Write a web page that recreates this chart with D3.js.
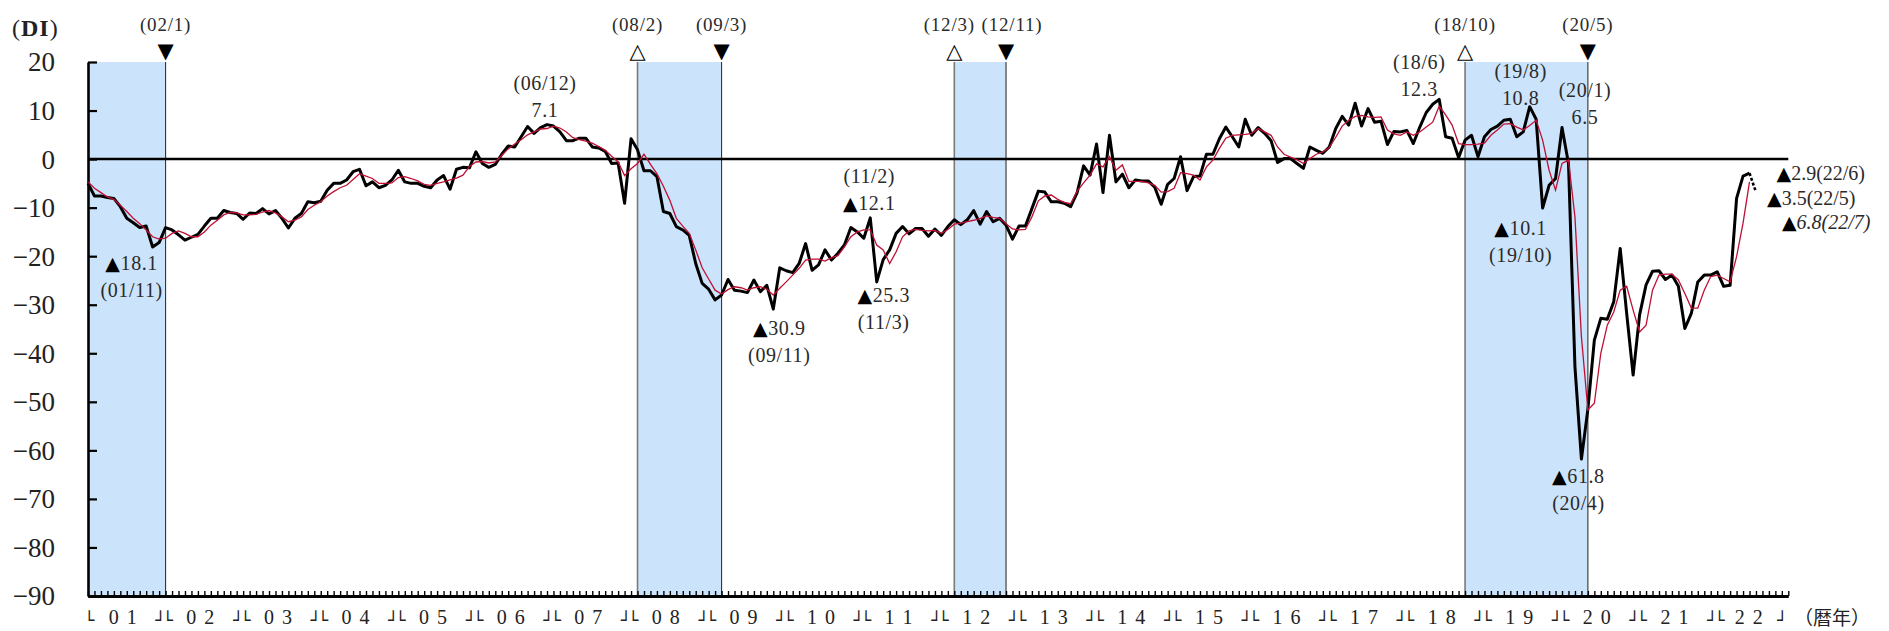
<!DOCTYPE html>
<html>
<head>
<meta charset="utf-8">
<script src="https://cdn.jsdelivr.net/npm/d3@7/dist/d3.min.js"></script>
<style>
body { margin: 0; background: #fff; }
svg text { font-family: "Liberation Serif", "DejaVu Serif", serif; fill: #2a2a2a; }
tspan.tri { font-family: "DejaVu Sans"; fill: #000; }
</style>
</head>
<body>
<svg id="chart" width="1889" height="631"></svg>
<script>
// Monthly DI, 2001/1 .. 2022/7 (last value is preliminary)
var diMonthly = [
    -5.0, -7.6, -7.6, -7.9, -8.1, -9.8, -12.2, -13.1, -14.1, -13.8,
    -18.1, -17.2, -14.1, -14.6, -15.6, -16.7, -16.1, -15.5, -13.8, -12.2,
    -12.2, -10.6, -11.0, -11.2, -12.4, -11.1, -11.2, -10.2, -11.3, -10.6,
    -12.2, -14.2, -12.2, -11.2, -8.8, -9.0, -8.7, -6.4, -5.0, -5.0,
    -4.3, -2.6, -2.1, -5.5, -4.7, -5.9, -5.4, -4.3, -2.3, -4.7,
    -5.0, -5.0, -5.6, -5.9, -4.3, -3.4, -6.2, -2.1, -1.7, -1.8,
    1.5, -0.9, -1.7, -1.1, 1.0, 2.7, 2.5, 4.6, 6.7, 5.3,
    6.5, 7.1, 6.8, 5.6, 3.8, 3.8, 4.3, 4.3, 2.5, 2.3,
    1.6, -0.9, -0.8, -9.1, 4.2, 1.9, -2.4, -2.4, -3.6, -10.8,
    -11.2, -13.9, -14.6, -15.7, -21.5, -25.6, -26.8, -29.0, -28.0, -24.8,
    -27.0, -27.2, -27.5, -24.9, -27.3, -26.0, -30.9, -22.4, -23.0, -23.4,
    -21.5, -17.4, -22.9, -21.8, -18.7, -20.8, -19.4, -17.7, -14.1, -15.0,
    -16.3, -12.1, -25.3, -20.7, -18.7, -15.3, -13.9, -15.4, -14.3, -14.3,
    -15.9, -14.4, -15.7, -13.9, -12.5, -13.5, -12.5, -10.6, -13.4, -10.8,
    -12.9, -12.2, -13.6, -16.5, -13.8, -13.8, -10.2, -6.6, -6.8, -8.8,
    -8.8, -9.1, -9.8, -6.9, -1.4, -3.3, 3.1, -6.9, 4.9, -4.7,
    -3.1, -5.9, -4.3, -4.5, -4.5, -5.8, -9.3, -5.2, -4.0, 0.5,
    -6.5, -3.6, -3.5, 1.0, 1.0, 4.2, 6.6, 4.6, 2.5, 8.2,
    4.9, 6.5, 5.3, 3.8, -0.7, 0.1, 0.1, -0.9, -1.9, 2.5,
    1.8, 1.2, 2.5, 6.3, 8.8, 7.0, 11.5, 6.8, 10.4, 7.6,
    7.8, 3.0, 5.7, 5.6, 5.9, 3.2, 6.6, 9.6, 11.3, 12.3,
    4.6, 4.3, 0.3, 3.9, 4.9, 0.5, 4.6, 6.1, 6.8, 8.0,
    8.2, 4.6, 5.6, 10.8, 8.2, -10.1, -5.4, -4.0, 6.5, -0.9,
    -42.8, -61.8, -51.5, -37.3, -32.8, -33.0, -29.4, -18.4, -31.8, -44.5,
    -32.1, -25.9, -23.1, -23.0, -24.8, -23.9, -26.2, -34.9, -31.8, -25.3,
    -23.9, -23.9, -23.2, -26.2, -26.0, -8.1, -3.5, -2.9, -6.8
];

// Moving average line (red), 2001/1 .. 2022/6
var diAverage = [
    -4.7, -6.0, -6.9, -7.8, -8.3, -9.5, -10.8, -12.2, -13.3, -14.6,
    -16.0, -16.5, -16.3, -15.3, -14.8, -15.3, -16.0, -16.0, -15.0, -13.6,
    -12.6, -11.5, -11.0, -11.1, -11.5, -11.5, -11.4, -10.9, -10.6, -11.1,
    -11.9, -12.9, -12.6, -11.9, -10.4, -9.5, -8.8, -7.6, -6.7, -5.9,
    -5.4, -4.2, -3.0, -3.5, -4.0, -5.0, -5.0, -4.9, -3.8, -3.6,
    -4.0, -4.5, -5.2, -5.4, -5.0, -4.7, -4.3, -3.9, -3.3, -1.5,
    -0.6, -0.5, -0.8, -0.6, 0.8, 2.1, 3.1, 4.0, 5.0, 5.6,
    6.2, 6.3, 6.8, 6.4, 5.6, 4.4, 4.0, 3.7, 3.3, 2.6,
    1.8, 0.6, -0.6, -3.4, -2.0, -0.9, 1.0, -1.1, -3.0, -5.6,
    -8.5, -12.2, -13.8, -15.3, -18.7, -22.4, -24.7, -27.0, -27.8, -26.9,
    -26.3, -26.5, -27.0, -26.5, -26.3, -26.8, -28.0, -26.6, -25.3, -23.9,
    -22.5, -20.8, -20.6, -20.6, -21.0, -20.3, -19.9, -18.1, -16.0, -15.0,
    -14.6, -14.6, -17.7, -18.7, -21.5, -19.1, -16.0, -14.8, -14.5, -14.7,
    -14.8, -14.7, -15.3, -14.5, -13.4, -13.2, -12.9, -12.6, -12.2, -11.7,
    -12.0, -12.2, -13.3, -14.4, -14.6, -14.5, -11.9, -8.6, -7.6, -7.4,
    -8.3, -8.9, -9.2, -6.6, -4.9, -3.3, -1.0, -1.6, 0.5, -2.3,
    -1.2, -4.6, -4.6, -4.6, -4.9, -5.4, -6.8, -6.7, -6.0, -2.8,
    -3.0, -3.3, -4.3, -1.6, -0.2, 2.2, 4.3, 4.9, 5.0, 5.1,
    5.3, 6.3, 5.6, 4.9, 2.5, 1.0, 0.4, -0.1, -0.9, 0.1,
    1.0, 1.5, 2.4, 4.5, 6.8, 8.0, 8.8, 9.0, 8.7, 8.6,
    8.7, 6.0, 5.2, 4.9, 5.6, 4.9, 5.6, 6.6, 7.6, 10.9,
    9.1, 7.0, 3.2, 3.0, 3.0, 3.1, 3.3, 4.9, 6.0, 7.2,
    7.3, 6.6, 6.0, 6.9, 8.0, 3.9, -2.3, -6.4, -0.9, -0.2,
    -11.9, -36.6, -51.7, -50.3, -40.0, -34.2, -31.5, -27.0, -26.2, -31.1,
    -35.6, -34.2, -27.0, -23.9, -23.7, -23.7, -24.9, -27.7, -30.7, -30.7,
    -27.0, -24.2, -23.9, -24.6, -25.3, -20.1, -13.2, -4.7
];

var yearLabels = ['01', '02', '03', '04', '05', '06', '07', '08', '09', '10', '11',
                  '12', '13', '14', '15', '16', '17', '18', '19', '20', '21', '22'];
var yTickValues = [20, 10, 0, -10, -20, -30, -40, -50, -60, -70, -80, -90];

// Business cycle turning points (month index from 2001/1)
var turnLabels = ['02/1', '08/2', '09/3', '12/3', '12/11', '18/10', '20/5'];
var turnMonths = [12, 85, 98, 134, 142, 213, 232];
var turnKinds  = ['trough', 'peak', 'trough', 'peak', 'trough', 'peak', 'trough'];
// Recession periods (the first one starts before the chart)
var recessionStart = [0, 85, 134, 213];
var recessionEnd   = [12, 98, 142, 232];

// Labelled months
var noteMonths = [10, 71, 106, 121, 122, 209, 223, 225, 228, 231];
var lastNoteMonths = [257, 256, 258];

var svg = d3.select('#chart');
var monthCount = 263;
var x = d3.scaleLinear().domain([0, monthCount]).range([88, 88 + monthCount * 6.465]);
var y = d3.scaleLinear().domain([-90, 20]).range([596, 62]);

function monthLabel(m) {
    var yy = 1 + Math.floor(m / 12);
    return '(' + (yy < 10 ? '0' : '') + yy + '/' + (m % 12 + 1) + ')';
}
// Negative values are written with a leading triangle
function writeValue(selection, v, suffix) {
    if (v < 0)
        selection.append('tspan').classed('tri', true).attr('font-size', '0.95em').text('▲');
    selection.append('tspan').text(Math.abs(v).toFixed(1) + (suffix || ''));
}

// Recession shading
svg.append('g').selectAll('rect')
    .data(recessionStart)
    .join('rect')
    .attr('x', (d) => x(d))
    .attr('y', y(20))
    .attr('width', (d, i) => x(recessionEnd[i]) - x(d))
    .attr('height', y(-90) - y(20))
    .attr('fill', '#cce4fb');

// Turning point lines, labels and markers
var turns = svg.append('g');
turns.selectAll('line')
    .data(turnMonths)
    .join('line')
    .attr('x1', (d) => x(d)).attr('x2', (d) => x(d))
    .attr('y1', y(20)).attr('y2', y(-90))
    .attr('stroke', (d, i) => turnKinds[i] === 'peak' ? '#7a7a7a' : '#333')
    .attr('stroke-width', (d, i) => turnKinds[i] === 'peak' ? 1.6 : 1.1);
var labelShift = [0, 0, 0, -5, 6, 0, 0];
turns.selectAll('text.turn')
    .data(turnMonths)
    .join('text')
    .classed('turn', true)
    .attr('x', (d, i) => x(d) + labelShift[i])
    .attr('y', 31)
    .attr('text-anchor', 'middle')
    .attr('font-size', 19)
    .attr('letter-spacing', 0.8)
    .text((d, i) => '(' + turnLabels[i] + ')');
turns.selectAll('text.mark')
    .data(turnMonths)
    .join('text')
    .classed('mark', true)
    .attr('x', (d) => x(d))
    .attr('y', 58)
    .attr('text-anchor', 'middle')
    .attr('font-size', 21)
    .style('font-family', '"DejaVu Sans"')
    .style('fill', '#000')
    .text((d, i) => turnKinds[i] === 'peak' ? '△' : '▼');

// Zero line
svg.append('line')
    .attr('x1', x(0)).attr('x2', x(monthCount))
    .attr('y1', y(0)).attr('y2', y(0))
    .attr('stroke', '#000').attr('stroke-width', 2.5);

// Y axis (ticks point inward)
var yAxis = svg.append('g')
    .attr('transform', 'translate(' + x(0) + ',0)')
    .call(d3.axisLeft(y).tickValues(yTickValues).tickSize(-9).tickSizeOuter(0).tickPadding(33)
        .tickFormat((d) => d < 0 ? '−' + (-d) : d));
yAxis.select('.domain').attr('stroke-width', 2.6);
yAxis.selectAll('.tick line').attr('stroke-width', 2.2);
yAxis.selectAll('.tick text')
    .attr('font-size', 27)
    .attr('dy', '0.33em')
    .style('font-family', '"Liberation Serif", "DejaVu Serif", serif')
    .style('fill', '#222');

svg.append('text')
    .attr('x', 12).attr('y', 36)
    .attr('font-size', 24)
    .attr('letter-spacing', 1)
    .style('fill', '#222')
    .html('(<tspan font-weight="bold">DI</tspan>)');

// X axis: one small tick per month
var xAxis = svg.append('g')
    .attr('transform', 'translate(0,' + y(-90) + ')')
    .call(d3.axisBottom(x).tickValues(d3.range(0, monthCount + 1)).tickSize(-5).tickSizeOuter(0).tickFormat(''));
xAxis.select('.domain').attr('stroke-width', 3);
xAxis.selectAll('.tick line').attr('stroke-width', 1.4);

// Year labels └ y y ┘, brackets drawn at the year boundaries
function yearStart(i) { return x(12 * i); }
function yearEnd(i) { return Math.min(x(12 * i + 12), x(monthCount)); }
var brackets = d3.range(0, yearLabels.length + 1);
svg.append('g').selectAll('text')
    .data(brackets)
    .join('text')
    .attr('x', (d) => d === 0 ? x(0) - 4 : (d === yearLabels.length ? yearEnd(d - 1) - 1 : yearStart(d) - 3))
    .attr('y', 626)
    .attr('text-anchor', (d) => d === 0 ? 'start' : (d === yearLabels.length ? 'end' : 'middle'))
    .attr('font-size', 17)
    .attr('letter-spacing', (d) => d === 0 || d === yearLabels.length ? 0 : -3)
    .style('font-family', '"DejaVu Sans"')
    .style('fill', '#222')
    .text((d) => d === 0 ? '└' : (d === yearLabels.length ? '┘' : '┘└'));
var years = svg.append('g').selectAll('g')
    .data(yearLabels)
    .join('g');
years.selectAll('text')
    .data((d, i) => [[d.charAt(0), -13, i], [d.charAt(1), 5, i]])
    .join('text')
    .attr('x', (d) => (yearStart(d[2]) + yearEnd(d[2])) / 2 + d[1])
    .attr('y', 624)
    .attr('text-anchor', 'middle')
    .attr('font-size', 20)
    .style('fill', '#222')
    .text((d) => d[0]);
svg.append('text')
    .attr('x', 1794).attr('y', 625)
    .attr('font-size', 19)
    .style('font-family', '"Noto Sans CJK JP"')
    .style('fill', '#222')
    .text('（暦年）');

// Lines
var line = d3.line().x((d, i) => x(i)).y((d) => y(d));
svg.append('path')
    .datum(diMonthly.slice(0, diMonthly.length - 1))
    .attr('d', line)
    .attr('fill', 'none').attr('stroke', '#000')
    .attr('stroke-width', 3).attr('stroke-linejoin', 'round');
var n = diMonthly.length - 1;
svg.append('line')
    .attr('x1', x(n - 1)).attr('y1', y(diMonthly[n - 1]))
    .attr('x2', x(n)).attr('y2', y(diMonthly[n]))
    .attr('stroke', '#000').attr('stroke-width', 2.6)
    .attr('stroke-dasharray', '3,2');
svg.append('path')
    .datum(diAverage)
    .attr('d', line)
    .attr('fill', 'none').attr('stroke', '#bf1034')
    .attr('stroke-width', 1.3);

// Notes on peaks and dips: [offset x, offset y of first row, value first?]
var noteLayout = [
    [-21, 16, true], [-2, -42, false], [6, 19, true], [-1, -42, false], [7, 13, true],
    [-20, -37, false], [-9, -36, false], [-22, 20, true], [23, -38, false], [-3, 17, true]
];
var notes = svg.append('g').selectAll('g')
    .data(noteMonths)
    .join('g')
    .attr('transform', (d, i) => 'translate(' + (x(d) + noteLayout[i][0]) + ',' + (y(diMonthly[d]) + noteLayout[i][1]) + ')');
notes.each(function(d, i) {
    var g = d3.select(this);
    var valueRow = noteLayout[i][2] ? 0 : 1;
    var common = (t, row) => t.attr('y', row * 27).attr('dy', '0.35em')
        .attr('text-anchor', 'middle').attr('font-size', 20).attr('letter-spacing', 0.6);
    writeValue(common(g.append('text'), valueRow), diMonthly[d]);
    common(g.append('text'), 1 - valueRow).text(monthLabel(d));
});

// Latest values, right of the lines
var lastLayout = [[27, 0], [24, 22], [26, 30]];
svg.append('g').selectAll('text')
    .data(lastNoteMonths)
    .join('text')
    .attr('x', (d, i) => x(d) + lastLayout[i][0])
    .attr('y', (d, i) => y(diMonthly[d]) + lastLayout[i][1])
    .attr('dy', '0.35em')
    .attr('font-size', 20)
    .style('font-style', (d, i) => i === 2 ? 'italic' : 'normal')
    .each(function(d) { writeValue(d3.select(this), diMonthly[d], monthLabel(d)); });
</script>
</body>
</html>
